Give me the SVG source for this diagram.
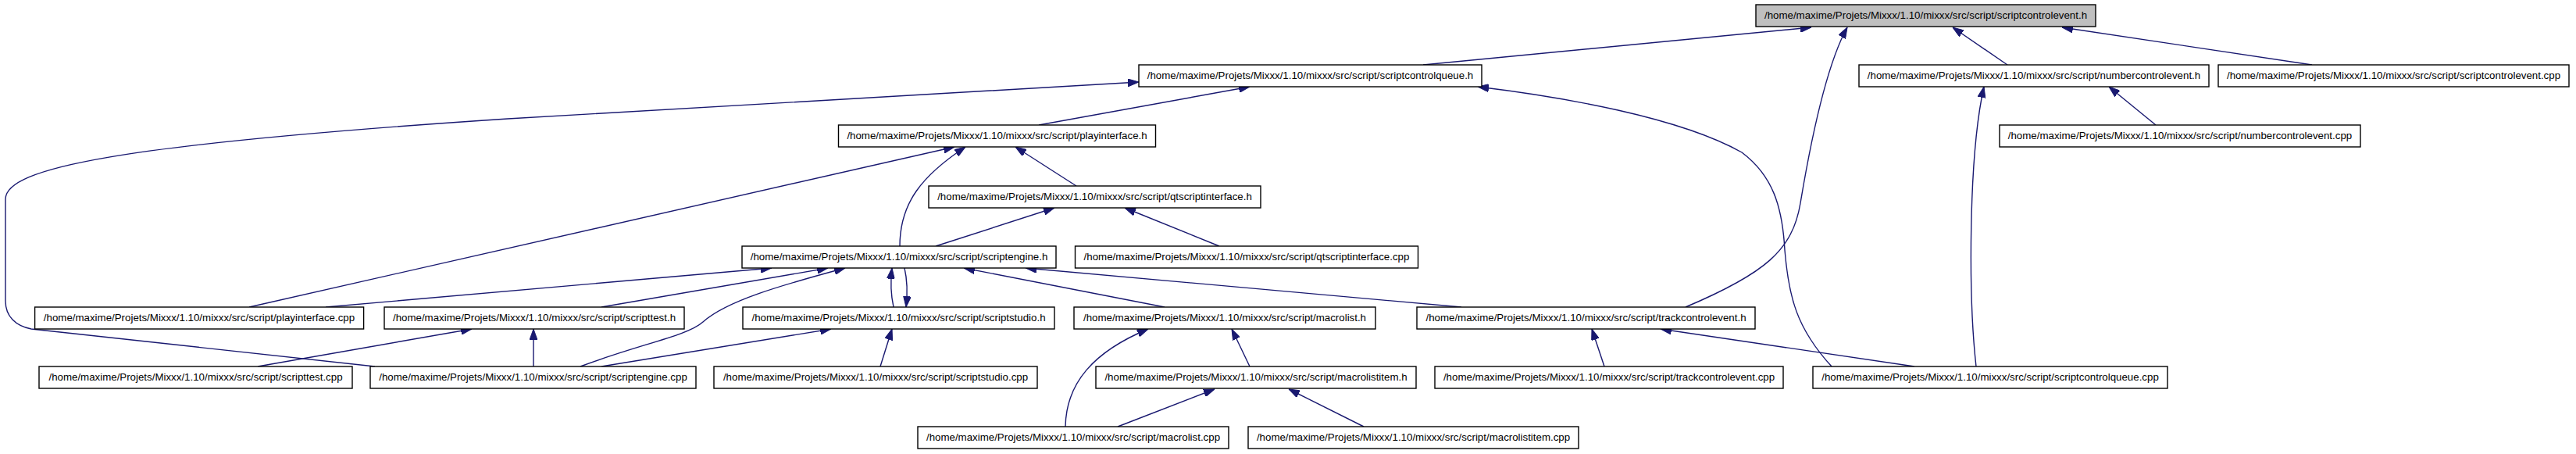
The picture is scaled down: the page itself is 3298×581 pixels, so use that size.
<svg xmlns="http://www.w3.org/2000/svg" width="3298" height="581" viewBox="0 0 3298 581">
<style>
.node rect{fill:#ffffff;stroke:#000000;stroke-width:1.4}
.node.root rect{fill:#bfbfbf}
.node text{font-family:"Liberation Sans",Arial,Helvetica,sans-serif;font-size:13.3px;text-anchor:middle;fill:#000000}
.edges path{fill:none;stroke:#191970;stroke-width:1.4;marker-end:url(#arr)}
</style>
<defs>
<marker id="arr" markerUnits="userSpaceOnUse" markerWidth="14" markerHeight="10" refX="14" refY="5" orient="auto">
<path d="M0,0 L14,5 L0,10 Z" fill="#191970" stroke="#191970" stroke-width="1"/>
</marker>
</defs>
<rect x="0" y="0" width="3298" height="581" fill="#ffffff"/>
<g class="edges">
<path d="M1822,83 L2319,35"/>
<path d="M2570,83 L2500,35"/>
<path d="M2960,83 L2640,35"/>
<path d="M2158,393 C2260,350 2295,320 2305,260 C2320,170 2340,80 2365,35"/>
<path d="M1330,160 L1600,111"/>
<path d="M480,469 L40,421 C20,417 7,405 7,385 L7,255 C7,215 150,185 650,152 L1458,105"/>
<path d="M2345,469 C2300,420 2290,380 2285,320 C2282,265 2270,225 2230,195 C2150,150 2000,124 1892,111"/>
<path d="M2760,160 L2700,111"/>
<path d="M2530,469 C2520,380 2520,200 2540,111"/>
<path d="M319,393 L1222,188"/>
<path d="M1152,315 C1152,260 1180,225 1236,188"/>
<path d="M1378,238 L1300,188"/>
<path d="M1198,315 L1350,266"/>
<path d="M1561,315 L1440,266"/>
<path d="M417,393 L988,343"/>
<path d="M770,393 L1060,343"/>
<path d="M743,469 C820,440 880,430 900,412 C930,385 1000,365 1082,343"/>
<path d="M1144,393 C1140,375 1140,360 1142,343"/>
<path d="M1158,343 C1162,360 1162,375 1160,393"/>
<path d="M1491,393 L1234,343"/>
<path d="M1871,393 L1313,343"/>
<path d="M330,469 L604,421"/>
<path d="M683,469 L683,421"/>
<path d="M770,469 L1064,421"/>
<path d="M1127,469 L1142,421"/>
<path d="M1364,546 C1365,490 1400,450 1470,421"/>
<path d="M1600,469 L1577,421"/>
<path d="M1431,546 L1555,498"/>
<path d="M1746,546 L1650,498"/>
<path d="M2054,469 L2038,421"/>
<path d="M2451,469 L2126,421"/>
</g>
<g id="n0" class="node root"><rect x="2248" y="6" width="435" height="28"/><text x="2465.5" y="24">/home/maxime/Projets/Mixxx/1.10/mixxx/src/script/scriptcontrolevent.h</text></g>
<g id="n1" class="node"><rect x="1458" y="83" width="439" height="28"/><text x="1677.5" y="101">/home/maxime/Projets/Mixxx/1.10/mixxx/src/script/scriptcontrolqueue.h</text></g>
<g id="n2" class="node"><rect x="2380" y="83" width="448" height="28"/><text x="2604" y="101">/home/maxime/Projets/Mixxx/1.10/mixxx/src/script/numbercontrolevent.h</text></g>
<g id="n3" class="node"><rect x="2840" y="83" width="449" height="28"/><text x="3064.5" y="101">/home/maxime/Projets/Mixxx/1.10/mixxx/src/script/scriptcontrolevent.cpp</text></g>
<g id="n4" class="node"><rect x="1073.5" y="160" width="406" height="28"/><text x="1276.5" y="178">/home/maxime/Projets/Mixxx/1.10/mixxx/src/script/playinterface.h</text></g>
<g id="n5" class="node"><rect x="2560" y="160" width="462" height="28"/><text x="2791" y="178">/home/maxime/Projets/Mixxx/1.10/mixxx/src/script/numbercontrolevent.cpp</text></g>
<g id="n6" class="node"><rect x="1189" y="238" width="425" height="28"/><text x="1401.5" y="256">/home/maxime/Projets/Mixxx/1.10/mixxx/src/script/qtscriptinterface.h</text></g>
<g id="n7" class="node"><rect x="950" y="315" width="402" height="28"/><text x="1151" y="333">/home/maxime/Projets/Mixxx/1.10/mixxx/src/script/scriptengine.h</text></g>
<g id="n8" class="node"><rect x="1376.5" y="315" width="439" height="28"/><text x="1596" y="333">/home/maxime/Projets/Mixxx/1.10/mixxx/src/script/qtscriptinterface.cpp</text></g>
<g id="n9" class="node"><rect x="44.6" y="393" width="421" height="28"/><text x="255" y="411">/home/maxime/Projets/Mixxx/1.10/mixxx/src/script/playinterface.cpp</text></g>
<g id="n10" class="node"><rect x="492" y="393" width="384" height="28"/><text x="684" y="411">/home/maxime/Projets/Mixxx/1.10/mixxx/src/script/scripttest.h</text></g>
<g id="n11" class="node"><rect x="951" y="393" width="399" height="28"/><text x="1150.5" y="411">/home/maxime/Projets/Mixxx/1.10/mixxx/src/script/scriptstudio.h</text></g>
<g id="n12" class="node"><rect x="1375" y="393" width="386" height="28"/><text x="1568" y="411">/home/maxime/Projets/Mixxx/1.10/mixxx/src/script/macrolist.h</text></g>
<g id="n13" class="node"><rect x="1814" y="393" width="433" height="28"/><text x="2030.5" y="411">/home/maxime/Projets/Mixxx/1.10/mixxx/src/script/trackcontrolevent.h</text></g>
<g id="n14" class="node"><rect x="50" y="469" width="401" height="28"/><text x="250.5" y="487">/home/maxime/Projets/Mixxx/1.10/mixxx/src/script/scripttest.cpp</text></g>
<g id="n15" class="node"><rect x="474" y="469" width="417" height="28"/><text x="682.5" y="487">/home/maxime/Projets/Mixxx/1.10/mixxx/src/script/scriptengine.cpp</text></g>
<g id="n16" class="node"><rect x="914" y="469" width="414" height="28"/><text x="1121" y="487">/home/maxime/Projets/Mixxx/1.10/mixxx/src/script/scriptstudio.cpp</text></g>
<g id="n17" class="node"><rect x="1403" y="469" width="410" height="28"/><text x="1608" y="487">/home/maxime/Projets/Mixxx/1.10/mixxx/src/script/macrolistitem.h</text></g>
<g id="n18" class="node"><rect x="1837" y="469" width="446" height="28"/><text x="2060" y="487">/home/maxime/Projets/Mixxx/1.10/mixxx/src/script/trackcontrolevent.cpp</text></g>
<g id="n19" class="node"><rect x="2321" y="469" width="454" height="28"/><text x="2548" y="487">/home/maxime/Projets/Mixxx/1.10/mixxx/src/script/scriptcontrolqueue.cpp</text></g>
<g id="n20" class="node"><rect x="1175" y="546" width="398" height="28"/><text x="1374" y="564">/home/maxime/Projets/Mixxx/1.10/mixxx/src/script/macrolist.cpp</text></g>
<g id="n21" class="node"><rect x="1598" y="546" width="423" height="28"/><text x="1809.5" y="564">/home/maxime/Projets/Mixxx/1.10/mixxx/src/script/macrolistitem.cpp</text></g>
</svg>
